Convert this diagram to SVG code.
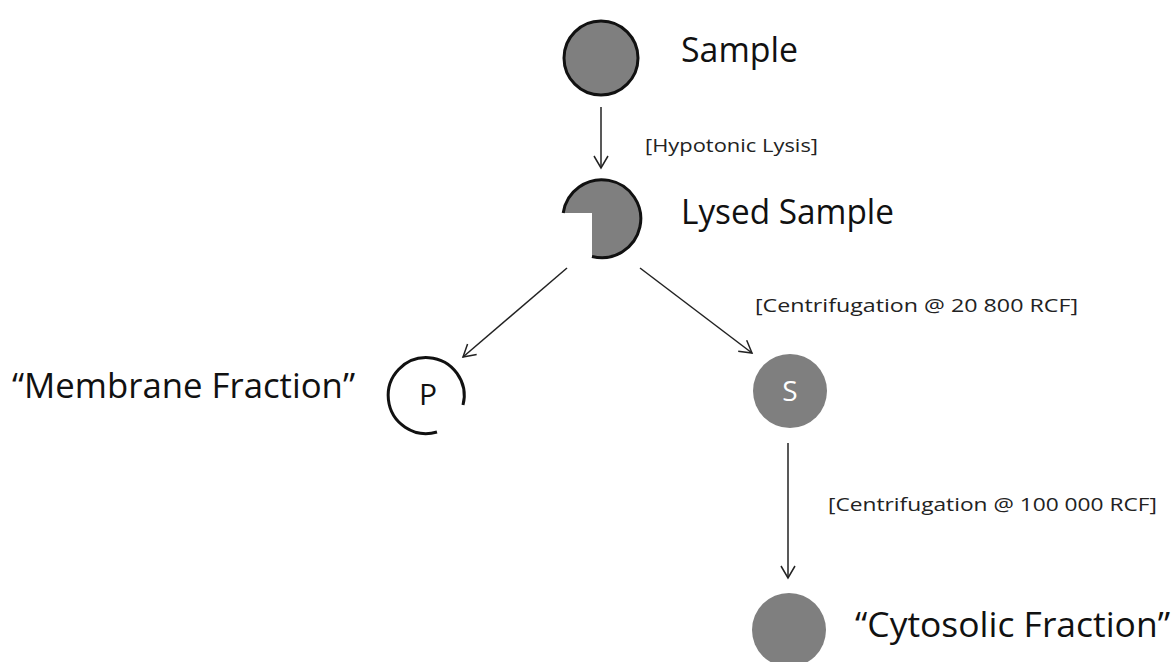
<svg xmlns="http://www.w3.org/2000/svg" width="1173" height="662" viewBox="0 0 1173 662">
<defs>
<marker id="ah" markerWidth="16" markerHeight="16" refX="14" refY="8" orient="auto" markerUnits="userSpaceOnUse">
<path d="M2,1 L14,8 L2,15" fill="none" stroke="#222" stroke-width="1.5"/>
</marker>
<style>
.big{font-family:"Open Sans","Noto Sans","Liberation Sans",sans-serif;font-size:34px;fill:#111}
.lab{font-family:"Open Sans","Noto Sans","Liberation Sans",sans-serif;font-size:18px;fill:#222}
.conn{stroke:#222;stroke-width:1.5;fill:none;marker-end:url(#ah)}
.fill{fill:#7f7f7f}
</style>
</defs>
<rect width="1173" height="662" fill="#fff"/>
<g id="connectors">
<line class="conn" x1="601" y1="107" x2="601" y2="168"/>
<line class="conn" x1="567" y1="268" x2="463" y2="357"/>
<line class="conn" x1="640" y1="268" x2="752" y2="353"/>
<line class="conn" x1="788" y1="443" x2="788" y2="578"/>
<text class="lab" x="645" y="152" textLength="173" lengthAdjust="spacingAndGlyphs">[Hypotonic Lysis]</text>
<text class="lab" x="755" y="312" textLength="323" lengthAdjust="spacingAndGlyphs">[Centrifugation @ 20 800 RCF]</text>
<text class="lab" x="828" y="511" textLength="329" lengthAdjust="spacingAndGlyphs">[Centrifugation @ 100 000 RCF]</text>
</g>
<g id="sample">
<circle class="fill" cx="601" cy="58" r="37" stroke="#111" stroke-width="3"/>
<text class="big" x="681" y="62" textLength="117" lengthAdjust="spacingAndGlyphs">Sample</text>
</g>
<g id="lysed">
<path class="fill" d="M563.2,213 A39,39 0 1 1 592,256.5 L592,213 Z"/>
<path d="M563.2,213 A39,39 0 1 1 592,256.5" fill="none" stroke="#111" stroke-width="3"/>
<text class="big" x="681" y="224" textLength="213" lengthAdjust="spacingAndGlyphs">Lysed Sample</text>
</g>
<g id="pellet">
<path d="M463,405 A38,38 0 1 0 437,432" fill="none" stroke="#111" stroke-width="3"/>
<text x="428" y="405" text-anchor="middle" style="font-family:'Open Sans','Noto Sans',sans-serif;font-size:30px;fill:#111">P</text>
<text class="big" x="12" y="398" textLength="343" lengthAdjust="spacingAndGlyphs">“Membrane Fraction”</text>
</g>
<g id="supernatant">
<circle class="fill" cx="790" cy="391" r="37"/>
<text x="790" y="401" text-anchor="middle" style="font-family:'Open Sans','Noto Sans',sans-serif;font-size:28px;fill:#fff">S</text>
</g>
<g id="cytosolic">
<circle class="fill" cx="789" cy="630" r="37"/>
<text class="big" x="855" y="637" textLength="315" lengthAdjust="spacingAndGlyphs">“Cytosolic Fraction”</text>
</g>
</svg>
